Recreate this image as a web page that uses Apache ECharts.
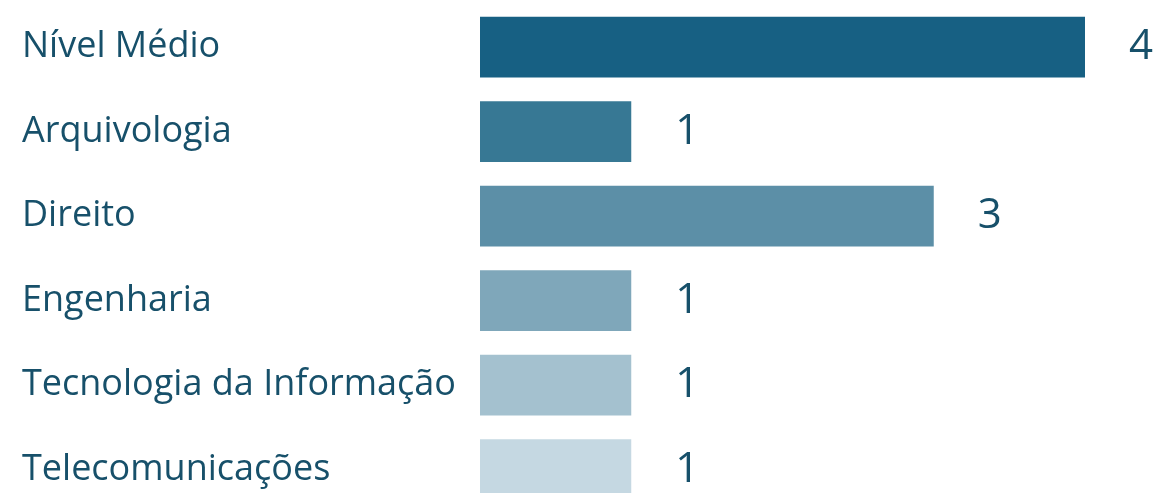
<!DOCTYPE html>
<html>
<head>
<meta charset="utf-8">
<script src="https://cdn.jsdelivr.net/npm/echarts@6/dist/echarts.min.js"></script>
<style>
  html, body { margin: 0; padding: 0; background: #ffffff; }
  #chart { width: 1155px; height: 493px; }
</style>
</head>
<body>
<div id="chart"></div>
<script>
// Vagas por área
const categories = ['Nível Médio', 'Arquivologia', 'Direito', 'Engenharia', 'Tecnologia da Informação', 'Telecomunicações'];
const values = [4, 1, 3, 1, 1, 1];

// Tons de azul, do mais escuro ao mais claro
const palette = ['#176083', '#377894', '#5c8fa7', '#7fa7ba', '#a4c1cf', '#c5d8e2'];
const textColor = '#17506a';
const fontFamily = '"Open Sans", sans-serif';

const chart = echarts.init(document.getElementById('chart'), null, { renderer: 'canvas' });

chart.setOption({
  animation: false,
  backgroundColor: '#ffffff',
  // the last row runs past the bottom edge of the canvas
  grid: { left: 480, right: 70, top: 4.8, height: 507, containLabel: false, outerBoundsMode: 'none' },
  xAxis: {
    type: 'value',
    min: 0,
    max: 4,
    show: false,
    splitLine: { show: false }
  },
  yAxis: {
    type: 'category',
    data: categories,
    inverse: true,
    axisLine: { show: false },
    axisTick: { show: false },
    axisLabel: {
      align: 'left',
      margin: 458,
      fontSize: 36,
      fontFamily: fontFamily,
      color: textColor
    }
  },
  series: [{
    type: 'bar',
    barCategoryGap: '28%',
    data: values.map((v, i) => ({ value: v, itemStyle: { color: palette[i] } })),
    label: {
      show: true,
      position: 'right',
      distance: 44,
      fontSize: 42,
      fontFamily: fontFamily,
      color: textColor
    }
  }]
});
</script>
</body>
</html>
